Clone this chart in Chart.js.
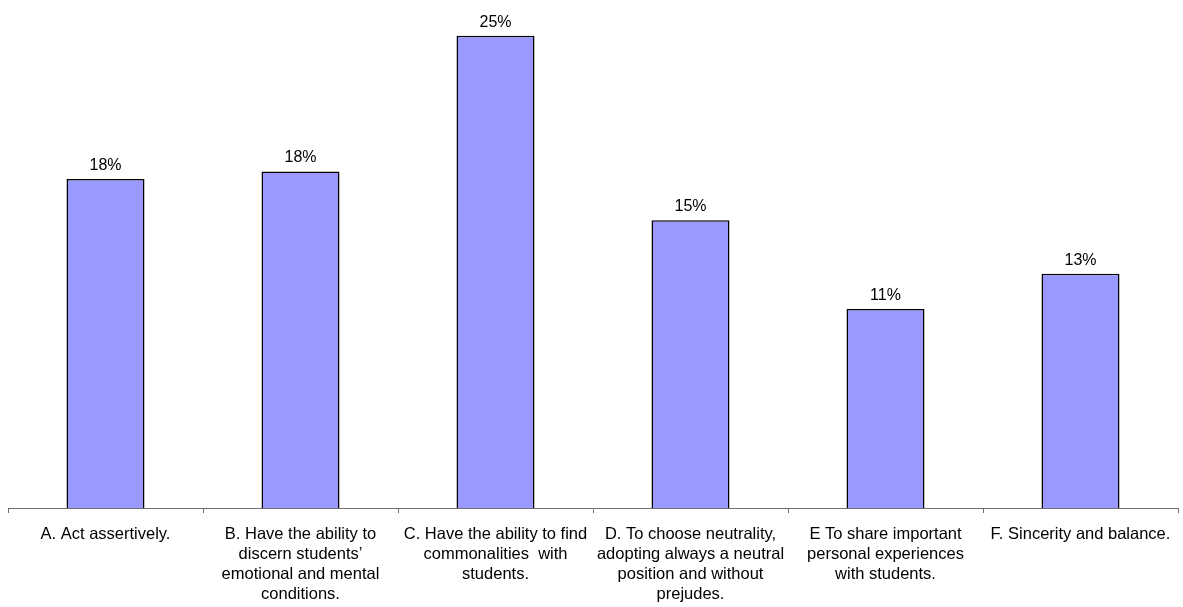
<!DOCTYPE html>
<html>
<head>
<meta charset="utf-8">
<script src="https://cdn.jsdelivr.net/npm/chart.js@4.4.1/dist/chart.umd.min.js"></script>
<style>
  html, body { margin: 0; padding: 0; background: #fff; }
  #wrap { width: 1183px; height: 607px; }
</style>
</head>
<body>
<div id="wrap"><canvas id="myChart" width="1183" height="607"></canvas></div>
<script>
// categories (wrapped the way the original axis shows them)
var categories = [
    ['A. Act assertively.'],
    ['B. Have the ability to', 'discern students\u2019', 'emotional and mental', 'conditions.'],
    ['C. Have the ability to find', 'commonalities  with', 'students.'],
    ['D. To choose neutrality,', 'adopting always a neutral', 'position and without', 'prejudes.'],
    ['E To share important', 'personal experiences', 'with students.'],
    ['F. Sincerity and balance.']
];

// percentages
var percentages = [17.7, 18.1, 25.4, 15.48, 10.7, 12.6];

var barLabels = {
    id: 'barLabels',
    afterDatasetsDraw: function (chart) {
        var ctx = chart.ctx;
        var meta = chart.getDatasetMeta(0);
        ctx.save();
        ctx.fillStyle = '#000';
        ctx.font = '16px "Liberation Sans", Arial, sans-serif';
        ctx.textAlign = 'center';
        ctx.textBaseline = 'alphabetic';
        meta.data.forEach(function (bar, i) {
            ctx.fillText(Math.round(percentages[i]) + '%', bar.x, bar.y - 9);
        });
        ctx.restore();
    }
};

var ctx = document.getElementById('myChart').getContext('2d');
var myBarChart = new Chart(ctx, {
    type: 'bar',
    data: {
        labels: categories,
        datasets: [{
            data: percentages,
            backgroundColor: '#9999FF',
            borderColor: '#000000',
            borderWidth: 1.5,
            categoryPercentage: 1.0,
            barPercentage: 0.4
        }]
    },
    options: {
        responsive: false,
        animation: false,
        layout: {
            padding: { top: 6, left: 8, right: 5, bottom: 5 }
        },
        plugins: {
            legend: { display: false },
            tooltip: { enabled: false }
        },
        scales: {
            x: {
                afterFit: function (scale) {
                    scale.height = 94;
                },
                grid: {
                    offset: true,
                    drawOnChartArea: false,
                    drawTicks: true,
                    tickLength: 5,
                    color: '#707070'
                },
                border: { color: '#707070', width: 1 },
                ticks: {
                    color: '#000',
                    padding: 12,
                    maxRotation: 0,
                    autoSkip: false,
                    font: { family: '"Liberation Sans", Arial, sans-serif', size: 16.5, lineHeight: 1.2 }
                }
            },
            y: {
                display: false,
                min: 0,
                max: 27
            }
        }
    },
    plugins: [barLabels]
});
</script>
</body>
</html>
